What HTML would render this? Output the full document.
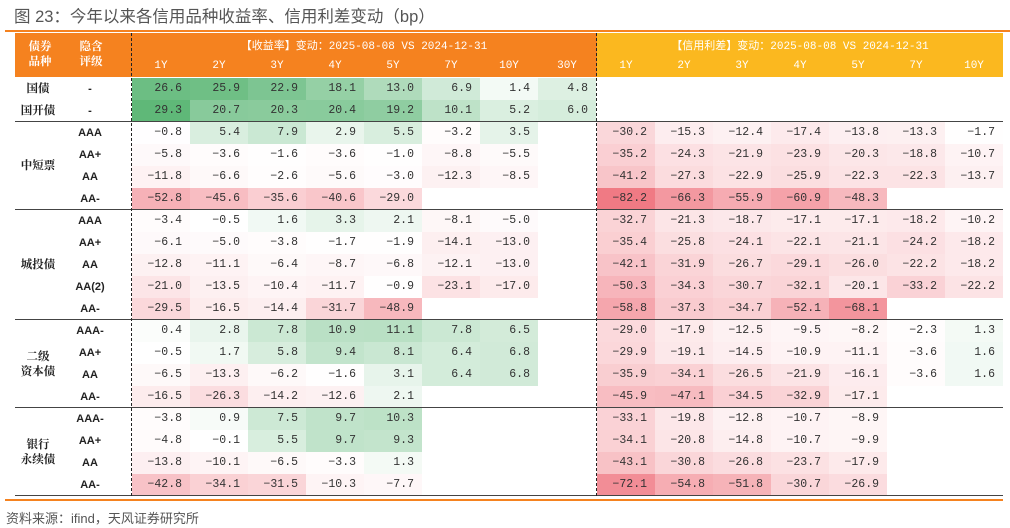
<!DOCTYPE html>
<html><head><meta charset="utf-8">
<style>
body{margin:0;width:1010px;height:528px;background:#fff;position:relative;overflow:hidden;font-family:"Liberation Sans","Noto Sans CJK SC",sans-serif;}
.a{position:absolute;box-sizing:border-box;}
.c{position:absolute;box-sizing:border-box;font-family:"Liberation Mono","Noto Sans CJK SC",monospace;font-size:11.5px;color:#333;text-align:right;padding-right:8px;line-height:22px;height:22px;}
.h{position:absolute;color:#fff;font-family:"Liberation Mono","Noto Sans CJK SC",monospace;font-size:11px;text-align:center;}
.l{position:absolute;font-family:"Noto Serif CJK SC","Noto Sans CJK SC",serif;font-size:11.5px;color:#222;text-align:center;font-weight:bold;}
</style></head><body>
<div class="a" style="left:14px;top:3px;font-size:16.5px;color:#555;font-family:'Liberation Sans','Noto Sans CJK SC',sans-serif;">图 23：今年以来各信用品种收益率、信用利差变动（bp）</div>
<div class="a" style="left:5px;top:30px;width:1005px;height:2px;background:#f5821f;"></div>
<div class="a" style="left:15px;top:33px;width:582px;height:44px;background:#f5821f;"></div>
<div class="a" style="left:597px;top:33px;width:406px;height:44px;background:#fbb81f;"></div>
<div class="l" style="left:15px;top:39px;width:50px;color:#fff;line-height:15px;">债券<br>品种</div>
<div class="l" style="left:65px;top:39px;width:52px;color:#fff;line-height:15px;">隐含<br>评级</div>
<div class="h" style="left:132px;top:37px;width:464px;">【收益率】变动：2025-08-08 VS 2024-12-31</div>
<div class="h" style="left:597px;top:37px;width:406px;">【信用利差】变动：2025-08-08 VS 2024-12-31</div>
<div class="a" style="left:5px;top:499px;width:998px;height:2px;background:#f5821f;"></div>
<div class="a" style="left:6px;top:508px;font-size:13px;color:#555;">资料来源：ifind，天风证券研究所</div>
<div id="grid"></div>
<script>
const yieldTenors=["1Y","2Y","3Y","4Y","5Y","7Y","10Y","30Y"];
const spreadTenors=["1Y","2Y","3Y","4Y","5Y","7Y","10Y"];
const groups=[["国债",1],["国开债",1],["中短票",4],["城投债",5],["二级\n资本债",4],["银行\n永续债",4]];
const ratings=["-","-","AAA","AA+","AA","AA-","AAA","AA+","AA","AA(2)","AA-","AAA-","AA+","AA","AA-","AAA-","AA+","AA","AA-"];
const yieldVals=[
[26.6,25.9,22.9,18.1,13.0,6.9,1.4,4.8],
[29.3,20.7,20.3,20.4,19.2,10.1,5.2,6.0],
[-0.8,5.4,7.9,2.9,5.5,-3.2,3.5],
[-5.8,-3.6,-1.6,-3.6,-1.0,-8.8,-5.5],
[-11.8,-6.6,-2.6,-5.6,-3.0,-12.3,-8.5],
[-52.8,-45.6,-35.6,-40.6,-29.0],
[-3.4,-0.5,1.6,3.3,2.1,-8.1,-5.0],
[-6.1,-5.0,-3.8,-1.7,-1.9,-14.1,-13.0],
[-12.8,-11.1,-6.4,-8.7,-6.8,-12.1,-13.0],
[-21.0,-13.5,-10.4,-11.7,-0.9,-23.1,-17.0],
[-29.5,-16.5,-14.4,-31.7,-48.9],
[0.4,2.8,7.8,10.9,11.1,7.8,6.5],
[-0.5,1.7,5.8,9.4,8.1,6.4,6.8],
[-6.5,-13.3,-6.2,-1.6,3.1,6.4,6.8],
[-16.5,-26.3,-14.2,-12.6,2.1],
[-3.8,0.9,7.5,9.7,10.3],
[-4.8,-0.1,5.5,9.7,9.3],
[-13.8,-10.1,-6.5,-3.3,1.3],
[-42.8,-34.1,-31.5,-10.3,-7.7]];
const spreadVals=[
[],[],
[-30.2,-15.3,-12.4,-17.4,-13.8,-13.3,-1.7],
[-35.2,-24.3,-21.9,-23.9,-20.3,-18.8,-10.7],
[-41.2,-27.3,-22.9,-25.9,-22.3,-22.3,-13.7],
[-82.2,-66.3,-55.9,-60.9,-48.3],
[-32.7,-21.3,-18.7,-17.1,-17.1,-18.2,-10.2],
[-35.4,-25.8,-24.1,-22.1,-21.1,-24.2,-18.2],
[-42.1,-31.9,-26.7,-29.1,-26.0,-22.2,-18.2],
[-50.3,-34.3,-30.7,-32.1,-20.1,-33.2,-22.2],
[-58.8,-37.3,-34.7,-52.1,-68.1],
[-29.0,-17.9,-12.5,-9.5,-8.2,-2.3,1.3],
[-29.9,-19.1,-14.5,-10.9,-11.1,-3.6,1.6],
[-35.9,-34.1,-26.5,-21.9,-16.1,-3.6,1.6],
[-45.9,-47.1,-34.5,-32.9,-17.1],
[-33.1,-19.8,-12.8,-10.7,-8.9],
[-34.1,-20.8,-14.8,-10.7,-9.9],
[-43.1,-30.8,-26.8,-23.7,-17.9],
[-72.1,-54.8,-51.8,-30.7,-26.9]];

const g=document.getElementById('grid');
const ROW0=78,RH=22,YX=132,SX=597,CW=58;
const all=yieldVals.flat().concat(spreadVals.flat());
const vmax=Math.max(...all),vmin=Math.min(...all);
function color(v){
  let t,c;
  if(v>=0){t=Math.pow(v/vmax,0.85);c=[95,184,120];}else{t=Math.pow(v/vmin,1.2);c=[240,122,132];}
  const r=Math.round(255+(c[0]-255)*t),gg=Math.round(255+(c[1]-255)*t),b=Math.round(255+(c[2]-255)*t);
  return `rgb(${r},${gg},${b})`;
}
function yPos(i){return ROW0+i*RH;}
function add(html){g.insertAdjacentHTML('beforeend',html);}
yieldTenors.forEach((t,j)=>{
  add(`<div class="h" style="left:${YX+j*CW}px;top:60px;width:${CW}px;">${t}</div>`);
});
spreadTenors.forEach((t,j)=>{
  add(`<div class="h" style="left:${SX+j*CW}px;top:60px;width:${CW}px;">${t}</div>`);
});
function cells(vals,x0,prefix){
  vals.forEach((row,i)=>{
    row.forEach((v,j)=>{
      if(v===null||v===undefined)return;
      add(`<div class="c" style="left:${x0+j*CW}px;top:${yPos(i)}px;width:${CW}px;background:${color(v)};">${v.toFixed(1).replace('-','−')}</div>`);
    });
  });
}
cells(yieldVals,YX,'yield');
cells(spreadVals,SX,'spread');
ratings.forEach((r,i)=>{
  add(`<div class="l" style="left:65px;top:${yPos(i)}px;width:50px;line-height:22px;font-family:'Liberation Sans','Noto Sans CJK SC',sans-serif;font-size:11px;">${r}</div>`);
});
let ri=0;
groups.forEach(([name,n],k)=>{
  const top=yPos(ri),h=n*RH;
  add(`<div class="l" style="left:15px;top:${top+h/2-(name.includes('\n')?15:8)}px;width:46px;line-height:15px;">${name.replace('\n','<br>')}</div>`);
  ri+=n;
  if(k>=1){
    add(`<div class="a" style="left:15px;top:${yPos(ri)-1}px;width:988px;height:1px;background:#444;"></div>`);
  }
});
add(`<div class="a" style="left:131px;top:33px;width:0;height:463px;border-left:1px dashed #222;"></div>`);
add(`<div class="a" style="left:596px;top:33px;width:0;height:463px;border-left:1px dashed #222;"></div>`);
</script>
</body></html>
